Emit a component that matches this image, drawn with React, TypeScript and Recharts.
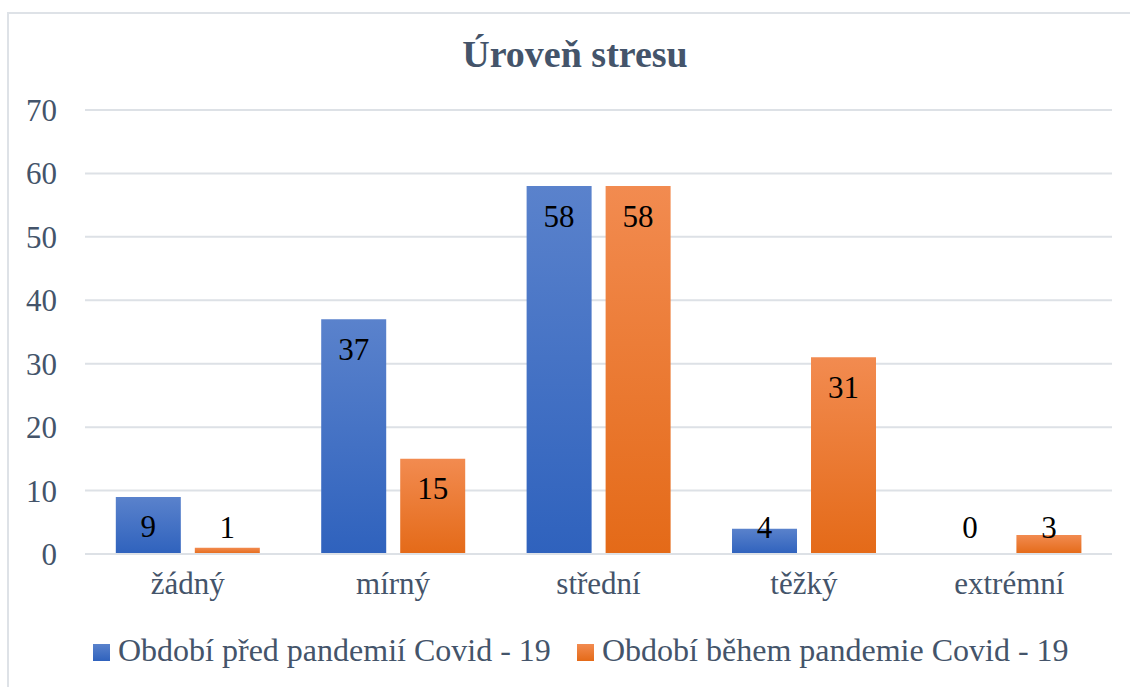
import React from 'react';
import { BarChart, Bar, XAxis, YAxis, CartesianGrid, Legend, LabelList, Rectangle } from 'recharts';

const categories = ['žádný', 'mírný', 'střední', 'těžký', 'extrémní'];
const beforeValues = [9, 37, 58, 4, 0];
const duringValues = [1, 15, 58, 31, 3];
const yTicks = [0, 10, 20, 30, 40, 50, 60, 70];
const seriesNames = ['Období před pandemií Covid - 19', 'Období během pandemie Covid - 19'];

const data = categories.map((c, i) => ({ name: c, before: beforeValues[i], during: duringValues[i] }));

const FONT = 'Liberation Serif, Times New Roman, serif';
const TEXT = '#44546A';
const GRID = '#DDE1E6';
const BASE_Y = 554;

const renderLabel = (props: any) => {
  const { x, y, width, value } = props;
  const cx = Number(x) + Number(width) / 2;
  const cy = Math.min(Number(y) + 30, BASE_Y - 27);
  return (
    <text x={cx} y={cy} textAnchor="middle" dominantBaseline="central" style={{ fontFamily: FONT, fontSize: 31, fill: '#000' }}>
      {String(value)}
    </text>
  );
};

const renderShape = (props: any) => {
  if (!props.value && props.value !== undefined) {
    const v = Array.isArray(props.value) ? props.value[1] - props.value[0] : props.value;
    if (!v) return <g />;
  }
  return <Rectangle {...props} />;
};

const renderLegend = () => {
  const items = [
    { label: seriesNames[0], left: 93, grad: 'linear-gradient(#5A82CC, #2F62BD)' },
    { label: seriesNames[1], left: 577, grad: 'linear-gradient(#F28B50, #E46A18)' },
  ];
  return (
    <div style={{ position: 'relative', width: 1130, height: 40 }}>
      {items.map((it) => (
        <div key={it.label} style={{ position: 'absolute', left: it.left, top: 0, height: 40 }}>
          <div style={{ position: 'absolute', left: 0, top: 10, width: 17, height: 17, background: it.grad }} />
          <div style={{ position: 'absolute', left: 25, top: 0, whiteSpace: 'nowrap', fontFamily: FONT, fontSize: 32, lineHeight: '32px', color: TEXT }}>
            {it.label}
          </div>
        </div>
      ))}
    </div>
  );
};

const tickStyle = { fontFamily: FONT, fontSize: 31, fill: TEXT, style: { fontFamily: FONT } };

export default function App() {
  return (
    <div style={{ position: 'absolute', left: 0, top: 0, width: 1130, height: 687, overflow: 'hidden', background: '#fff' }}>
      <div style={{ position: 'absolute', left: 7, top: 12, width: 1140, height: 700, border: '2px solid #DEE2E7', boxSizing: 'border-box' }} />
      <div style={{ position: 'absolute', left: 0, top: 35, width: 1150, textAlign: 'center', fontFamily: FONT, fontWeight: 'bold', fontSize: 38, lineHeight: '38px', color: TEXT }}>
        Úroveň stresu
      </div>
      <div style={{ position: 'absolute', left: 0, top: 0 }}>
        <BarChart
          width={1130}
          height={687}
          data={data}
          margin={{ top: 110, right: 18, bottom: 33, left: 0 }}
          barCategoryGap="15%"
          barGap={14}
        >
          <defs>
            <linearGradient id="gBlue" x1="0" y1="0" x2="0" y2="1">
              <stop offset="0%" stopColor="#5A82CC" />
              <stop offset="100%" stopColor="#2F62BD" />
            </linearGradient>
            <linearGradient id="gOrange" x1="0" y1="0" x2="0" y2="1">
              <stop offset="0%" stopColor="#F28B50" />
              <stop offset="100%" stopColor="#E46A18" />
            </linearGradient>
          </defs>
          <CartesianGrid vertical={false} stroke={GRID} strokeWidth={2} />
          <XAxis
            dataKey="name"
            height={60}
            axisLine={{ stroke: GRID, strokeWidth: 2 }}
            tickLine={false}
            tickSize={0}
            tickMargin={18}
            tick={tickStyle}
            interval={0}
          />
          <YAxis
            width={85}
            domain={[0, 70]}
            ticks={yTicks}
            axisLine={false}
            tickLine={false}
            tickSize={0}
            tickMargin={28}
            tick={tickStyle}
            interval={0}
          />
          <Legend
            content={renderLegend}
            wrapperStyle={{ position: 'absolute', left: 0, top: 634, width: 1130 }}
          />
          <Bar dataKey="before" name={seriesNames[0]} fill="url(#gBlue)" minPointSize={1} shape={renderShape} isAnimationActive={false}>
            <LabelList dataKey="before" content={renderLabel} />
          </Bar>
          <Bar dataKey="during" name={seriesNames[1]} fill="url(#gOrange)" minPointSize={1} shape={renderShape} isAnimationActive={false}>
            <LabelList dataKey="during" content={renderLabel} />
          </Bar>
        </BarChart>
      </div>
    </div>
  );
}
